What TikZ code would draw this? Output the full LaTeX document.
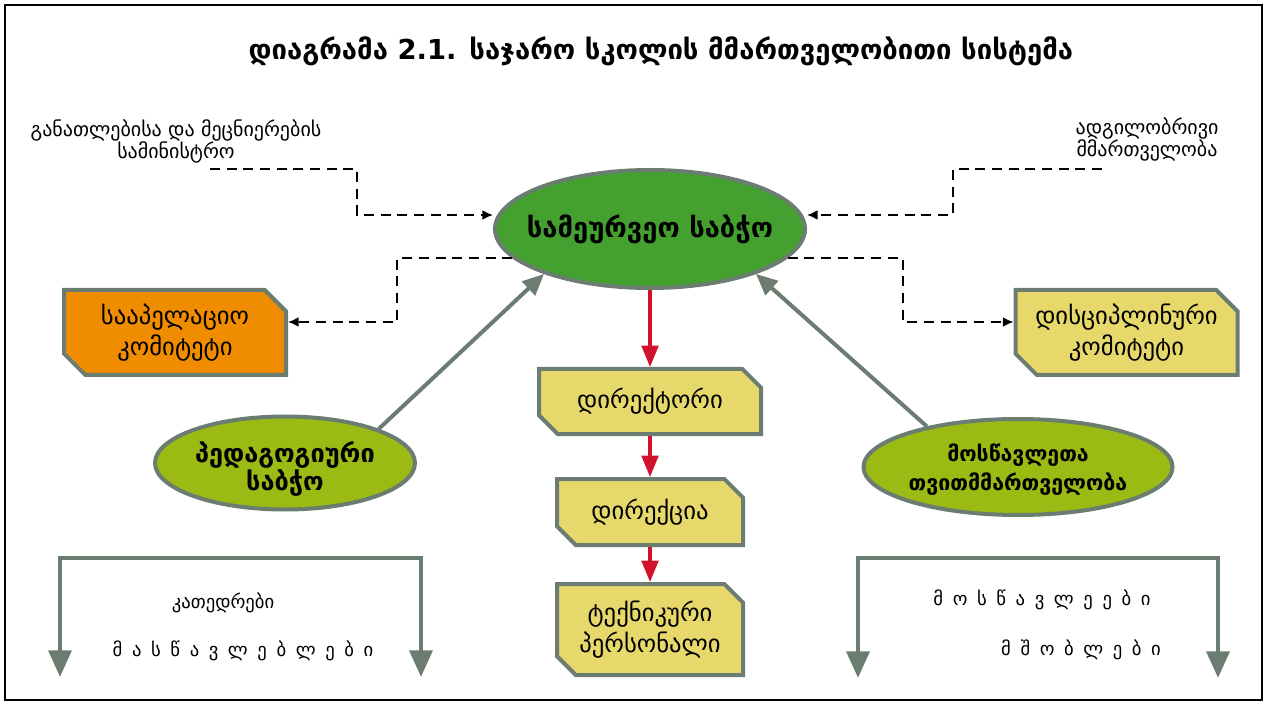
\documentclass[tikz,border=0pt]{standalone}
\usepackage{fontspec}
\setmainfont{DejaVu Sans}
\usetikzlibrary{arrows.meta,shapes.geometric}
\pgfdeclarelayer{bg}
\pgfsetlayers{bg,main}
\definecolor{frameg}{HTML}{6B7C70}
\definecolor{maingreen}{HTML}{45A12F}
\definecolor{lightgreen}{HTML}{9BBA13}
\definecolor{boxorange}{HTML}{F08C00}
\definecolor{boxyellow}{HTML}{E7D86B}
\definecolor{arrowred}{HTML}{D2112C}
\newcommand\chamf[3]{%
\begin{pgfonlayer}{bg}
\draw[boxshape,fill=#2]
 ([shift={(1.5pt,-1.5pt)}]#1.north west)
 -- ([shift={(-1.5pt-#3,-1.5pt)}]#1.north east)
 -- ([shift={(-1.5pt,-1.5pt-#3)}]#1.north east)
 -- ([shift={(-1.5pt,1.5pt)}]#1.south east)
 -- ([shift={(1.5pt+#3,1.5pt)}]#1.south west)
 -- ([shift={(1.5pt,1.5pt+#3)}]#1.south west)
 -- cycle;
\end{pgfonlayer}}
\newcommand\widesp{\spaceskip=7.2pt\relax}
\begin{document}
\begin{tikzpicture}[x=0.75pt,y=-0.75pt,
  ell/.style={ellipse, draw=frameg, line width=3pt, inner sep=0pt},
  elltext/.style={align=center, font=\bfseries\fontsize{19}{20.5}\selectfont},
  boxnode/.style={inner sep=0pt, outer sep=1.5pt, align=center, font=\fontsize{18.5}{23}\selectfont},
  boxshape/.style={draw=frameg, line width=3pt, line join=miter},
  toptext/.style={align=center, font=\fontsize{15}{16.5}\selectfont},
  bottext/.style={font=\fontsize{14}{18}\selectfont},
  dasharrow/.style={line width=1.4pt, dash pattern=on 7.5pt off 5pt, -{Latex[length=8pt,width=7.5pt]}},
  redarrow/.style={arrowred, line width=2.3pt, -{Triangle[length=16pt,width=12.5pt]}},
  grayarrow/.style={frameg, line width=3pt, -{Triangle[length=16pt,width=14pt]}},
  bracket/.style={frameg, line width=3.5pt, line join=miter, {Triangle[length=20pt,width=17pt]}-{Triangle[length=20pt,width=17pt]}}]
\useasboundingbox (0,0) rectangle (1266,705);
\draw[line width=1.5pt] (5,5) rectangle (1262,700);

\node[font=\bfseries\fontsize{20.6}{25}\selectfont] (title) at (661,51) {დიაგრამა 2.1. საჯარო სკოლის მმართველობითი სისტემა};

\node[toptext] (min) at (176,141) {განათლებისა და მეცნიერების\\სამინისტრო};
\node[toptext] (loc) at (1147,139) {ადგილობრივი\\მმართველობა};

\node[ell, fill=maingreen, minimum width=232.5pt, minimum height=88.5pt] (main) at (650,229) {};
\node[elltext, font=\bfseries\fontsize{20.5}{22}\selectfont] (mainlbl) at (main.center) {სამეურვეო საბჭო};

\node[ell, fill=lightgreen, minimum width=195pt, minimum height=69.75pt] (ped) at (285,463) {};
\node[elltext, font=\bfseries\fontsize{19}{20}\selectfont, yshift=-4.5pt] (pedlbl) at (ped.center) {პედაგოგიური\\საბჭო};

\node[ell, fill=lightgreen, minimum width=231.75pt, minimum height=72pt] (stu) at (1018,467) {};
\node[elltext, font=\bfseries\fontsize{16}{22}\selectfont, yshift=-2pt] (stulbl) at (stu.center) {მოსწავლეთა\\თვითმმართველობა};

\node[boxnode, minimum width=166.5pt, minimum height=63.75pt] (sap) at (175,332.5) {სააპელაციო\\კომიტეტი};
\chamf{sap}{boxorange}{16pt}
\node[boxnode, minimum width=166.5pt, minimum height=63.75pt] (disc) at (1126.5,332.5) {დისციპლინური\\კომიტეტი};
\chamf{disc}{boxyellow}{16pt}
\node[boxnode, minimum width=166.5pt, minimum height=48.75pt] (dir) at (650,401.5) {დირექტორი};
\chamf{dir}{boxyellow}{14pt}
\node[boxnode, minimum width=139.5pt, minimum height=49.5pt] (dirq) at (650,512) {დირექცია};
\chamf{dirq}{boxyellow}{14pt}
\node[boxnode, minimum width=139.5pt, minimum height=68.25pt] (tech) at (650,629.5) {ტექნიკური\\პერსონალი};
\chamf{tech}{boxyellow}{14pt}

% dashed connectors
\coordinate (a1) at (210,169);
\coordinate (c1) at (357,215);
\draw[dasharrow] (a1) -| (c1) -- (c1 -| main.west);
\coordinate (a2) at (1102,169);
\coordinate (c2) at (953,215);
\draw[dasharrow] (a2) -| (c2) -- (c2 -| main.east);
\coordinate (c3) at (397,322);
\draw[dasharrow] (main.192) -| (c3) -- (c3 -| sap.east);
\coordinate (c4) at (903,322);
\draw[dasharrow] (main.-12) -| (c4) -- (c4 -| disc.west);

% red chain
\draw[redarrow] (main.south) -- (dir.north);
\draw[redarrow] (dir.south) -- (dirq.north);
\draw[redarrow] (dirq.south) -- (tech.north);

% gray arrows
\draw[grayarrow] (ped.20) -- (main.203);
\draw[grayarrow] (stu.156) -- (main.-23);

% brackets
\draw[bracket] (60,677) -- (60,558) -- (421,558) -- (421,677);
\draw[bracket] (858,678) -- (858,558) -- (1218,558) -- (1218,678);
\node[bottext] (kat) at (223,603) {კათედრები};
\node[bottext] (mas) at (243,651) {\widesp მ ა ს წ ა ვ ლ ე ბ ლ ე ბ ი};
\node[bottext] (mos) at (1042,600) {\widesp მ ო ს წ ა ვ ლ ე ე ბ ი};
\node[bottext] (msh) at (1081,650) {\widesp მ შ ო ბ ლ ე ბ ი};
\end{tikzpicture}
\end{document}
